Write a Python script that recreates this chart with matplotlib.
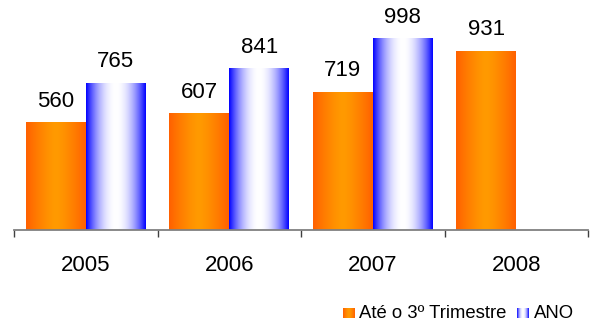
import numpy as np
import matplotlib
matplotlib.use("Agg")
import matplotlib.pyplot as plt
from matplotlib.colors import to_rgb

plt.rcParams['font.family'] = ['Liberation Sans', 'DejaVu Sans']

categories = ['2005', '2006', '2007', '2008']
series_names = ['Até o 3º Trimestre', 'ANO']
q3_values = [560, 607, 719, 931]
year_values = [765, 841, 998, np.nan]

W, H = 596, 322
fig = plt.figure(figsize=(W / 100, H / 100), dpi=100)
ax = fig.add_axes([14 / W, 1 - 230 / H, 574 / W, 230 / H])
YMAX = 1200
ax.set_xlim(-0.5, 3.5)
ax.set_ylim(0, YMAX)

bw = 0.418


def gradient(edge, center, n=256, power=1.6):
    x = np.linspace(0, 1, n)
    f = 1 - np.abs(2 * x - 1) ** power
    e = np.array(to_rgb(edge))
    c = np.array(to_rgb(center))
    return (e[None, :] + (c - e)[None, :] * f[:, None])[None, :, :]


orange_grad = gradient('#FF6000', '#FF9A00', power=1.4)
blue_grad = gradient('#0000FF', '#FFFFFF', power=2.0)

x = np.arange(len(categories))
for vals, off, grad in [(q3_values, -bw / 2, orange_grad), (year_values, bw / 2, blue_grad)]:
    bars = ax.bar(x + off, vals, width=bw, color='none', edgecolor='none')
    for b, v in zip(bars, vals):
        if np.isnan(v):
            continue
        x0 = b.get_x()
        ax.imshow(grad, extent=(x0, x0 + b.get_width(), 0, b.get_height()),
                  aspect='auto', interpolation='bilinear', zorder=2)
        ax.annotate(f"{int(v)}", (x0 + b.get_width() / 2, b.get_height()),
                    xytext=(0, 8), textcoords='offset points', ha='center',
                    va='bottom', fontsize=16, color='black', annotation_clip=False)

ax.set_xlim(-0.5, 3.5)
ax.set_ylim(0, YMAX)
for s in ['top', 'right', 'left']:
    ax.spines[s].set_visible(False)
ax.spines['bottom'].set_color('#808080')
ax.spines['bottom'].set_linewidth(1.3)
ax.spines['bottom'].set_zorder(3)
ax.set_yticks([])
ax.set_xticks(x)
ax.set_xticklabels(categories, fontsize=16)
ax.tick_params(axis='x', which='major', length=0, pad=18)
ax.set_xticks(np.arange(-0.5, 4, 1), minor=True)
ax.tick_params(axis='x', which='minor', length=5, width=1, color='#404040', direction='out')

# legend
def legend_patch(xpx, grad):
    lax = fig.add_axes([xpx / W, 1 - 318 / H, 12 / W, 10 / H])
    lax.imshow(grad, aspect='auto', extent=(0, 1, 0, 1), interpolation='bilinear')
    lax.axis('off')

legend_patch(343, orange_grad)
fig.text(359 / W, 1 - 313 / H, series_names[0], fontsize=13.3, va='center', ha='left')
legend_patch(517, blue_grad)
fig.text(534 / W, 1 - 313 / H, series_names[1], fontsize=13.3, va='center', ha='left')

fig.savefig('out.png', dpi=100)
